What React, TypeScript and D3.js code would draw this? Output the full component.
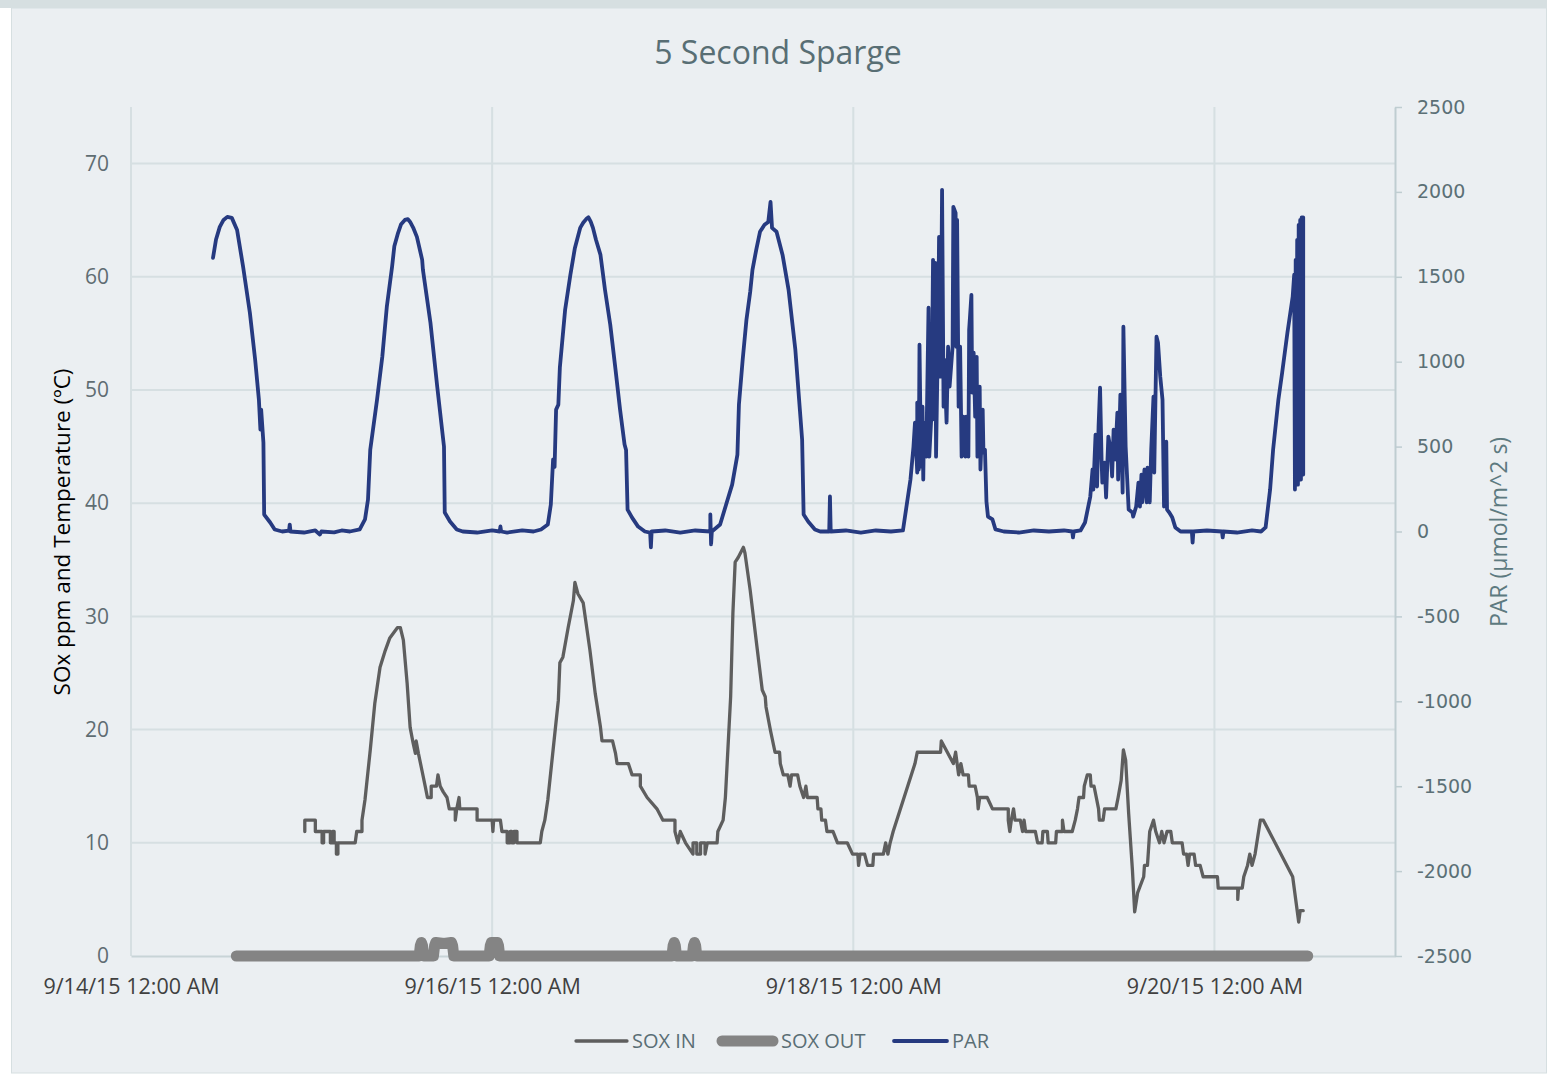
import { useEffect, useRef } from 'react'
import { select, scaleLinear, scaleTime, axisLeft, axisRight, axisBottom, line } from 'd3'

// series: [hours since 9/14/15 00:00, value]
const parData: [number, number][] = [
  [10.9,1612],[11.3,1720],[11.8,1794],[12.3,1835],[12.8,1853],[13.4,1847],[14.1,1776],[14.9,1559],[15.8,1288],[16.5,1012],[17.0,776],[17.2,600],[17.3,718],[17.6,523],[17.7,100],[18.5,53],[19.1,12],[20.1,0],[21.0,5],[21.1,41],[21.2,0],[23.0,-6],[24.5,6],[25.1,-18],[25.3,0],[27.0,-5],[28.0,6],[29.1,0],[30.4,12],
  [31.1,71],[31.5,188],[31.8,482],[32.7,776],[33.4,1029],[34.0,1323],[34.7,1559],[35.0,1680],[35.5,1759],[35.9,1810],[36.4,1835],[36.8,1840],[37.1,1823],[37.5,1790],[38.0,1735],[38.7,1600],[38.8,1541],[39.8,1229],[40.7,853],[41.6,500],[41.7,112],[42.4,59],[43.3,12],[44.1,0],
  [46.0,-6],[48.0,6],[49.0,0],[49.1,30],[49.2,0],[50.0,-6],[52.0,6],[53.5,0],[54.5,12],
  [55.4,41],[55.8,159],[56.1,424],[56.3,380],[56.5,718],[56.8,747],[57.0,965],[57.7,1306],[58.4,1512],[59.0,1670],[59.7,1788],[60.1,1818],[60.5,1840],[60.8,1850],[61.1,1825],[61.4,1788],[61.8,1718],[62.4,1629],[63.0,1423],[63.7,1218],[64.4,953],[65.0,718],[65.6,512],[65.8,480],[66.0,129],[66.6,82],[67.4,29],[68.3,0],[69.0,-6],[69.1,-94],[69.2,0],[71.0,6],[73.0,-6],[75.0,6],[77.0,0],[77.0,100],[77.1,-76],[77.2,0],
  [78.3,41],[79.1,159],[79.9,276],[80.6,453],[80.8,747],[81.3,1012],[81.8,1247],[82.3,1412],[82.6,1541],[83.1,1659],[83.6,1765],[84.2,1806],[84.7,1823],[85.0,1941],[85.2,1788],[85.8,1765],[86.6,1629],[87.4,1423],[88.3,1070],[88.9,718],[89.2,541],[89.4,100],[90.0,59],[90.9,12],[91.6,0],[92.8,0],[92.9,206],[93.0,0],[95.0,6],[97.0,-6],[99.0,6],[101.0,0],[102.6,6],
  [103.6,306],[104.0,500],[104.2,641],[104.5,347],[104.5,759],[104.7,365],[104.8,1100],[105.0,382],[105.2,735],[105.3,306],[105.4,641],[105.7,441],[106.0,1318],[106.1,441],[106.4,700],[106.6,1600],[106.8,659],[106.9,1582],[107.0,441],[107.3,1288],[107.4,1735],[107.6,912],[107.8,2012],[108.0,735],[108.1,1012],[108.4,641],[108.6,1088],[108.8,853],[109.0,971],[109.2,1088],[109.3,1912],[109.6,1876],[109.7,1088],[109.8,1835],[110.0,735],[110.2,1088],[110.4,441],[110.6,676],[110.9,441],[111.0,676],[111.3,441],[111.4,1188],[111.7,1394],[111.8,818],[112.0,1053],[112.2,676],[112.4,1029],[112.5,441],[112.8,853],[112.9,365],[113.2,718],[113.3,465],[113.5,482],[113.7,176],[113.9,88],[114.5,71],[114.9,12],
  [116.0,0],[118.0,-6],[120.0,6],[122.0,0],[124.0,6],[125.1,0],[125.2,-35],[125.3,0],[126.2,6],
  [126.8,53],[127.5,206],[127.8,365],[127.9,247],[128.2,571],[128.4,265],[128.6,618],[128.8,847],[129.0,424],[129.1,288],[129.4,406],[129.6,200],[129.9,559],[130.2,482],[130.4,324],[130.6,600],[130.8,424],[131.1,700],[131.2,306],[131.5,806],[131.8,229],[131.9,1206],[132.2,500],[132.6,129],[133.1,112],[133.2,88],[133.6,147],[133.9,288],[134.1,147],[134.3,335],[134.4,171],[134.7,365],[135.0,171],[135.1,376],[135.4,171],[135.6,482],[135.9,794],[136.0,347],[136.3,1147],[136.5,1112],[136.8,912],[137.1,776],[137.3,147],[137.6,529],[137.7,129],[138.0,112],[138.4,82],[138.8,24],[139.5,0],
  [141.0,0],[141.1,-65],[141.2,0],[143.0,6],[145.0,0],[145.1,-35],[145.2,0],[147.0,-6],[149.0,6],[150.2,0],
  [150.8,24],[151.4,247],[151.8,482],[152.5,776],[153.0,935],[153.7,1170],[154.4,1382],[154.6,1512],[154.7,247],[154.8,1600],[154.9,306],[155.0,1718],[155.1,276],[155.2,1806],[155.3,335],[155.4,1835],[155.5,306],[155.6,1850],[155.7,335],[155.8,1850],[155.8,335]
]

const soxInData: [number, number][] = [
  [23.1,11],[23.1,12],[24.5,12],[24.5,11],[25.4,11],[25.4,10],[25.6,10],[25.6,11],[26.5,11],[26.5,10],[26.8,10],[26.8,11],[27.0,11],[27.0,10],[27.3,10],[27.3,9],[27.5,9],[27.5,10],[29.8,10],[30.0,11],[30.7,11],[30.7,12],
  [31.1,13.8],[31.8,18.2],[32.4,22.3],[33.1,25.5],[33.8,27],[34.4,28.1],[35.4,29],[35.8,29],[36.2,27.9],[36.7,24.1],[37.1,20.2],[37.5,18.8],[37.8,17.9],[37.9,19],[38.2,17.9],[38.7,16.3],[39.1,15],[39.4,14],[39.9,14],[39.9,15],[40.6,15],[40.8,16],[41.1,15],[41.5,14.5],[42.0,14],[42.3,13],[43.1,13],[43.1,12],[43.3,13],[43.6,14],[43.7,13],[46.0,13],[46.0,12],[48.0,12],[48.1,11],[48.2,12],[49.1,12],[49.3,11],[50.0,11],[50.0,10],[50.4,10],[50.4,11],[50.6,11],[50.6,10],[50.9,10],[50.9,11],[51.3,11],[51.3,10],[54.4,10],[54.6,11],[55.0,12],
  [55.4,13.8],[56.1,18.2],[56.8,22.6],[57.0,25.9],[57.4,26.4],[58.1,29],[58.8,31.4],[59.0,33],[59.4,32],[60.1,31.2],[61.0,27],[61.7,23.2],[62.4,20.2],[62.6,19],[64.0,19],[64.4,17.9],[64.6,17],[66.1,17],[66.6,16],[67.7,16],[67.7,15],[68.6,14],[69.9,13],[70.7,12],[72.3,12],[72.3,11],[72.7,10],[73.0,11],[73.7,10],[74.7,9],[74.7,10],[75.2,10],[75.2,9],[75.7,9],[75.7,10],[76.3,10],[76.3,9],[76.6,10],[77.9,10],[78.0,11],[78.7,12],
  [79.0,14],[79.7,22.9],[80.0,30.3],[80.3,34.8],[80.7,35.2],[81.4,36.1],[81.6,35.6],[82.3,32.3],[83.2,27.3],[83.9,23.5],[84.3,22.9],[84.4,22],[85.0,19.9],[85.6,18],[86.2,18],[86.3,17],[86.7,16],[87.3,16],[87.6,15],[87.8,16],[88.6,16],[88.9,15],[89.4,14],[89.7,15],[89.9,14],[91.2,14],[91.3,13],[91.7,13],[91.8,12],[92.3,12],[92.5,11],[93.3,11],[93.9,10],[95.2,10],[95.9,9],[96.6,9],[96.7,8],[96.9,9],[97.5,9],[97.9,8],[98.6,8],[98.7,9],[100.0,9],[100.3,10],[100.6,9],[100.9,10],[101.3,11],
  [104.2,17],[104.5,18],[107.6,18],[107.7,19],[108.5,18],[109.3,17],[109.6,18],[109.8,17],[110.0,16],[110.3,17],[110.6,16],[111.3,16],[111.4,15],[112.2,15],[112.5,14],[112.6,13],[112.8,14],[113.8,14],[114.5,13],[116.6,13],[116.6,12],[116.8,11],[117.0,12],[117.3,13],[117.5,12],[118.2,12],[118.5,11],[118.7,12],[118.9,11],[120.2,11],[120.5,10],[121.1,10],[121.2,11],[121.8,11],[121.9,10],[122.9,10],[123.0,11],[123.8,11],[123.8,12],[124.0,11],[125.1,11],[125.5,12],[125.8,13],[126.0,14],[126.6,14],[126.7,15],[127.1,16],[127.5,16],[127.6,15],[128.0,15],[128.3,14],[128.6,13],[128.7,12],[129.2,12],[129.4,13],[130.9,13],[131.2,14],[131.6,15.5],[131.9,18.2],[132.2,17.3],[132.6,12.6],[133.1,7.6],[133.4,3.9],[133.8,5.6],[134.6,7],[134.7,8],[135.1,8],[135.4,11],[135.9,12],[136.2,11],[136.7,10],[137.0,11],[137.3,10],[137.7,11],[138.2,11],[138.4,10],[139.7,10],[139.9,9],[140.3,9],[140.5,8],[140.7,9],[141.3,9],[141.5,8],[142.1,8],[142.5,7],[144.4,7],[144.5,6],[147.1,6],[147.1,5],[147.2,6],[147.7,6],[147.9,7],[148.4,8],[148.7,9],[149.0,8],[149.4,9],[150.1,12],[150.5,12],[154.4,7],[155.2,3],[155.4,4],[155.8,4]
]

const soxOutData: [number, number][] = [
  [14.0,0],
  [38.3,0],[38.45,0.9],[38.6,1.2],[38.75,0.9],[38.9,0],
  [40.2,0],[40.35,0.9],[40.5,1.2],[41.6,1.1],[42.6,1.2],[42.75,0.9],[42.9,0],
  [47.6,0],[47.75,0.9],[47.9,1.2],[48.7,1.2],[48.85,0.9],[49.0,0],
  [71.9,0],[72.05,0.9],[72.2,1.2],[72.35,0.9],[72.5,0],
  [74.6,0],[74.75,0.9],[74.9,1.2],[75.05,0.9],[75.2,0],
  [156.4,0]
]

const xTickDays = [0, 2, 4, 6]
const xTickLabels = ['9/14/15 12:00 AM', '9/16/15 12:00 AM', '9/18/15 12:00 AM', '9/20/15 12:00 AM']
const leftTicks = [0, 10, 20, 30, 40, 50, 60, 70]
const rightTicks = [-2500, -2000, -1500, -1000, -500, 0, 500, 1000, 1500, 2000, 2500]

const startDate = new Date(2015, 8, 14)
const toDate = (h: number) => new Date(startDate.getTime() + h * 3600 * 1000)

function App() {
  const svg_ref = useRef<SVGSVGElement>(null)
  const width = 1547,
        height = 1075
  const plot = { left: 131, right: 1395, top: 107, bottom: 956 }

  useEffect(() => {
    const svg = select(svg_ref.current)
    svg.selectAll('*').remove()

    const x = scaleTime([startDate, toDate(168)], [plot.left, plot.right]),
          yL = scaleLinear([0, 75], [plot.bottom, plot.top]),
          yR = scaleLinear([-2500, 2500], [plot.bottom, plot.top])

    // background
    svg.append('rect').attr('width', width).attr('height', height).attr('fill', '#ffffff')
    svg.append('rect').attr('x', 0).attr('y', 0).attr('width', width).attr('height', 8).attr('fill', '#d6dfe1')
    svg.append('rect').attr('x', 11.5).attr('y', 8).attr('width', width - 12).attr('height', height - 10)
      .attr('fill', '#ebeff2').attr('stroke', '#d6dfe1')

    // title
    svg.append('text')
      .attr('x', 778).attr('y', 64)
      .attr('text-anchor', 'middle')
      .style('font-family', '"Open Sans"').style('font-size', '32px')
      .attr('fill', '#586e74')
      .text('5 Second Sparge')

    // grid
    svg.append('g').selectAll('line')
      .data(leftTicks.filter(d => d > 0))
      .join('line')
      .attr('x1', plot.left).attr('x2', plot.right)
      .attr('y1', d => yL(d)).attr('y2', d => yL(d))
      .attr('stroke', '#d6dfe2').attr('stroke-width', 2)

    svg.append('g').selectAll('line')
      .data(xTickDays)
      .join('line')
      .attr('x1', d => x(toDate(d * 24))).attr('x2', d => x(toDate(d * 24)))
      .attr('y1', plot.top).attr('y2', plot.bottom)
      .attr('stroke', '#d6dfe2').attr('stroke-width', 2)

    // axes
    const x_axis = axisBottom(x)
      .tickValues(xTickDays.map(d => toDate(d * 24)))
      .tickFormat((_d, i) => xTickLabels[i])
      .tickSize(0).tickPadding(23)
    const gx = svg.append('g')
      .attr('transform', `translate(0, ${plot.bottom})`)
      .call(x_axis)
    gx.select('.domain').attr('stroke', '#c8d4d7').attr('stroke-width', 2)
    gx.selectAll('text')
      .style('font-family', '"Open Sans"').style('font-size', '21.5px')
      .attr('fill', '#404040')

    const y_axis = axisLeft(yL).tickValues(leftTicks).tickSize(0).tickPadding(22)
    const gy = svg.append('g')
      .attr('transform', `translate(${plot.left}, 0)`)
      .call(y_axis)
    gy.select('.domain').remove()
    gy.selectAll('text')
      .style('font-family', '"Open Sans"').style('font-size', '21px')
      .attr('fill', '#5f6d72')

    const y2_axis = axisRight(yR).tickValues(rightTicks).tickFormat(d => String(d))
      .tickSize(7).tickSizeOuter(0).tickPadding(15)
    const gy2 = svg.append('g')
      .attr('transform', `translate(${plot.right}, 0)`)
      .call(y2_axis)
    gy2.select('.domain').attr('stroke', '#bfcdd1').attr('stroke-width', 2)
    gy2.selectAll('line').attr('stroke', '#bfcdd1').attr('stroke-width', 1.5)
    gy2.selectAll('text')
      .style('font-family', '"DejaVu Sans"').style('font-size', '19px')
      .attr('fill', '#5b7076')

    // axis titles
    svg.append('text')
      .attr('transform', 'translate(70, 532) rotate(-90)')
      .attr('text-anchor', 'middle')
      .style('font-family', '"Open Sans"').style('font-size', '22.5px')
      .attr('fill', '#000000')
      .text('SOx ppm and Temperature (ºC)')

    svg.append('text')
      .attr('transform', 'translate(1507, 532) rotate(-90)')
      .attr('text-anchor', 'middle')
      .style('font-family', '"Open Sans"').style('font-size', '23px')
      .attr('fill', '#5d7a80')
      .text('PAR (µmol/m^2 s)')

    // series
    const leftLine = line<[number, number]>()
      .x(d => x(toDate(d[0])))
      .y(d => yL(d[1]))
    const rightLine = line<[number, number]>()
      .x(d => x(toDate(d[0])))
      .y(d => yR(d[1]))

    svg.append('path')
      .datum(soxOutData)
      .attr('d', leftLine)
      .attr('fill', 'none')
      .attr('stroke', '#848484').attr('stroke-width', 11)
      .attr('stroke-linecap', 'round').attr('stroke-linejoin', 'round')

    svg.append('path')
      .datum(soxInData)
      .attr('d', leftLine)
      .attr('fill', 'none')
      .attr('stroke', '#5e5e5e').attr('stroke-width', 3.3)
      .attr('stroke-linecap', 'round').attr('stroke-linejoin', 'round')

    svg.append('path')
      .datum(parData)
      .attr('d', rightLine)
      .attr('fill', 'none')
      .attr('stroke', '#263a80').attr('stroke-width', 3.8)
      .attr('stroke-linecap', 'round').attr('stroke-linejoin', 'round')

    // legend
    const legend = [
      { name: 'SOX IN', color: '#5e5e5e', w: 3.3, x1: 576, x2: 627, tx: 632 },
      { name: 'SOX OUT', color: '#848484', w: 11, x1: 722, x2: 773, tx: 781 },
      { name: 'PAR', color: '#263a80', w: 3.8, x1: 894, x2: 947, tx: 952 }
    ]
    const lg = svg.append('g')
    lg.selectAll('line')
      .data(legend)
      .join('line')
      .attr('x1', d => d.x1).attr('x2', d => d.x2)
      .attr('y1', 1041).attr('y2', 1041)
      .attr('stroke', d => d.color).attr('stroke-width', d => d.w)
      .attr('stroke-linecap', 'round')
    lg.selectAll('text')
      .data(legend)
      .join('text')
      .attr('x', d => d.tx).attr('y', 1048)
      .style('font-family', '"Open Sans"').style('font-size', '20px')
      .attr('fill', '#5a6e75')
      .text(d => d.name)
  }, [])

  return (
    <svg ref={svg_ref} width={width} height={height}
      style={{ position: 'absolute', left: 0, top: 0 }}></svg>
  )
}

export default App
